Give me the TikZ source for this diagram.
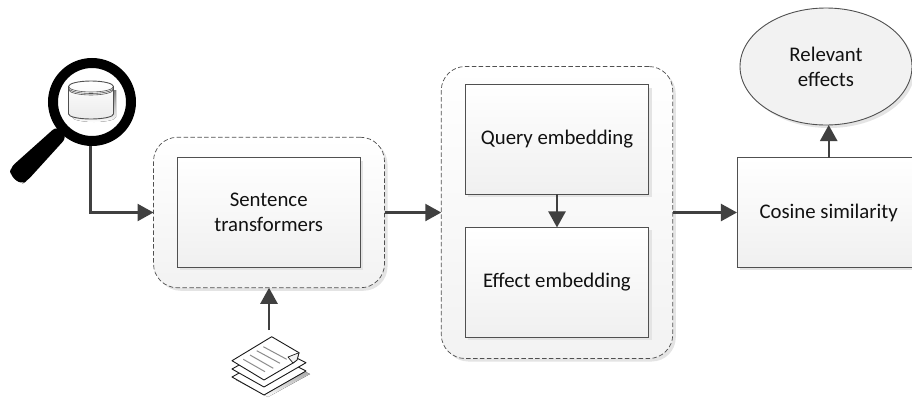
\documentclass[tikz,border=0pt]{standalone}
\usepackage{fontspec}
\setmainfont{Carlito}
\usetikzlibrary{arrows.meta,shadows,shapes.geometric}
\definecolor{conn}{HTML}{404040}
\definecolor{edge}{HTML}{505050}
\definecolor{shade}{HTML}{E4E4E4}
\definecolor{ink}{HTML}{111111}
\tikzset{
 softshadow/.style={general shadow={fill=shade,shadow xshift=3pt,shadow yshift=-3pt}},
 procbox/.style={rectangle,draw=edge,line width=.9pt,minimum width=183.5pt,minimum height=109.5pt,inner sep=0pt,outer sep=0pt,align=center,
   font=\fontsize{20.8}{25}\selectfont,text=ink,softshadow,top color=white,bottom color=black!6},
 groupbox/.style={rectangle,rounded corners=24pt,draw=edge,dash pattern=on 4.5pt off 2.4pt,line width=.7pt,inner sep=0pt,outer sep=0pt,
   general shadow={fill=shade,shadow xshift=3pt,shadow yshift=-3pt},top color=white,bottom color=black!5},
 oval/.style={ellipse,draw=edge,line width=.9pt,inner sep=0pt,outer sep=0pt,minimum width=172pt,minimum height=117pt,align=center,
   font=\fontsize{20.8}{25}\selectfont,text=ink,softshadow,fill=black!5},
 flow/.style={draw=conn,line width=2.4pt,-{Triangle[length=16pt,width=17pt]}},
 page/.style={draw=black!90,line width=.9pt,fill=white,line join=round},
 pageline/.style={draw=black!45,line width=1pt},
}
\begin{document}
\begin{tikzpicture}[x=1pt,y=-1pt]
\useasboundingbox (0,0) rectangle (912,397);
% groups
\node[groupbox,minimum width=231pt,minimum height=150.5pt] (sentgroup) at (269,212.5) {};
\node[groupbox,minimum width=231.5pt,minimum height=292pt] (embgroup) at (557,212.5) {};
% boxes
\node[procbox] (sent) at (268.7,212.5) {Sentence\\transformers};
\node[procbox] (query) at (557,139.3) {Query embedding};
\node[procbox] (effect) at (557,282.2) {Effect embedding};
\node[procbox] (cosine) at (828.7,212.5) {Cosine similarity};
\node[oval] (relevant) at (826,66.5) {Relevant\\effects};
% database inside the lens
\fill[shade] (72,90) -- (116,90) -- (116,117) arc[start angle=0,end angle=180,x radius=22,y radius=5] -- cycle;
\path[draw=edge,line width=.9pt,top color=white,bottom color=black!8]
  (68.5,86.5) -- (68.5,114) arc[start angle=180,end angle=0,x radius=22.5,y radius=5] -- (113.5,86.5) arc[start angle=0,end angle=-180,x radius=22.5,y radius=5.5] -- cycle;
\foreach \d in {0,1.5,3}
  \draw[edge,line width=.6pt] (68.5,86.5+\d) arc[start angle=180,end angle=0,x radius=22.5,y radius=5.5];
% magnifier
\fill[black,rounded corners=6pt] (57,126) -- (67,137) -- (27,181) -- (21,184.5) -- (10,175) -- (10,168) -- cycle;
\draw[black,line width=10pt] (92,102) circle[radius=39];
\coordinate (lensout) at (90.5,146);
% documents
\coordinate (docout) at (269,330);
\fill[shade] (236,380) -- (277,358) -- (310,374) -- (268,397) -- cycle;
\draw[page] (232,377) -- (273,354) -- (306,371) -- (264,395) -- cycle;
\draw[page] (232,369) -- (273,346) -- (306,362.7) -- (264,387) -- cycle;
\draw[page] (232,360.7) -- (271.7,336.7) -- (299,352.7) -- (297,360) -- (293,363) -- (264,380) -- cycle;
\draw[page,fill=black!5,line width=.7pt] (288,357) -- (299,352.7) -- (297,360) -- (293,363) -- cycle;
\draw[pageline] (243.3,359.3) -- (265,371.7);
\draw[pageline] (250,355) -- (273.3,368.3);
\draw[pageline] (256.7,350.7) -- (280,363.3);
\draw[pageline] (263.3,346.7) -- (286.7,359.3);
% connectors
\draw[flow] (lensout) |- (sentgroup.west);
\draw[flow] (docout) -- (sentgroup.south);
\draw[flow] (sentgroup.east) -- (sentgroup.east -| embgroup.west);
\draw[flow] (query.south) -- (effect.north);
\draw[flow] (embgroup.east |- cosine.west) -- (cosine.west);
\draw[flow] (cosine.north) -- (cosine.north |- relevant.south);
\end{tikzpicture}
\end{document}
